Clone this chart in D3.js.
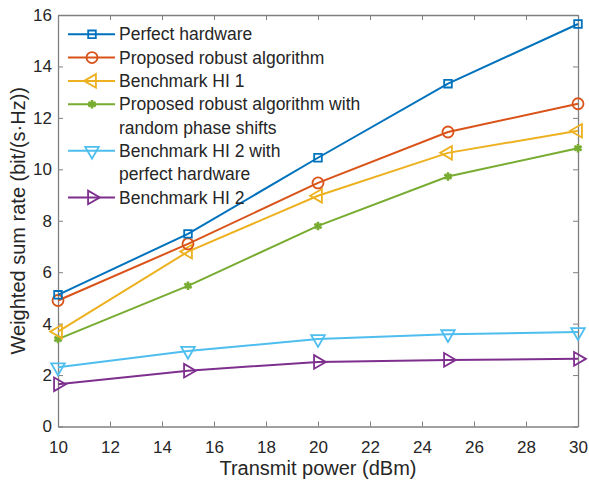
<!DOCTYPE html>
<html>
<head>
<meta charset="utf-8">
<script src="https://cdn.jsdelivr.net/npm/d3@7"></script>
<style>
  body { margin: 0; background: #fff; }
  text { font-family: "Liberation Sans", Arial, sans-serif; fill: #262626; }
</style>
</head>
<body>
<svg id="chart"></svg>
<script>
var power = [10, 15, 20, 25, 30];
var xTicks = [10, 12, 14, 16, 18, 20, 22, 24, 26, 28, 30];
var yTicks = [0, 2, 4, 6, 8, 10, 12, 14, 16];

var perfectHw = [5.12, 7.49, 10.45, 13.33, 15.65];
var robust = [4.9, 7.1, 9.47, 11.45, 12.55];
var hi1 = [3.69, 6.8, 8.97, 10.64, 11.5];
var robustRandom = [3.4, 5.47, 7.8, 9.72, 10.82];
var hi2Perfect = [2.3, 2.94, 3.4, 3.59, 3.67];
var hi2 = [1.64, 2.17, 2.51, 2.59, 2.63];

var seriesNames = [
    ["Perfect hardware"],
    ["Proposed robust algorithm"],
    ["Benchmark HI 1"],
    ["Proposed robust algorithm with", "random phase shifts"],
    ["Benchmark HI 2 with", "perfect hardware"],
    ["Benchmark HI 2"]
];

var series = [
    { name: seriesNames[0], values: perfectHw, color: "#0072BD", marker: "square" },
    { name: seriesNames[1], values: robust, color: "#D95319", marker: "circle" },
    { name: seriesNames[2], values: hi1, color: "#EDB120", marker: "left" },
    { name: seriesNames[3], values: robustRandom, color: "#77AC30", marker: "star" },
    { name: seriesNames[4], values: hi2Perfect, color: "#4DBEEE", marker: "down" },
    { name: seriesNames[5], values: hi2, color: "#7E2F8E", marker: "right" }
];

var margin = { top: 15, right: 11, bottom: 53.5, left: 58 },
    width = 589 - margin.left - margin.right,
    height = 480 - margin.top - margin.bottom;

var svg = d3.select("#chart")
    .attr("width", 589)
    .attr("height", 480);

var chart = svg.append("g")
    .attr("transform", "translate(" + margin.left + "," + margin.top + ")");

var x = d3.scaleLinear().domain([10, 30]).range([0, width]);
var y = d3.scaleLinear().domain([0, 16]).range([height, 0]);

// axes, MATLAB style: ticks inside, box on
var axisColor = "#808080";
function styleAxis(g) {
    g.select(".domain").attr("stroke", axisColor).attr("stroke-width", 1.3);
    g.selectAll(".tick line").attr("stroke", axisColor).attr("stroke-width", 1);
    g.selectAll(".tick text").style("font-size", "17px").attr("fill", "#262626");
}

chart.append("g")
    .attr("transform", "translate(0," + height + ")")
    .call(d3.axisBottom(x).tickValues(xTicks).tickSizeInner(-5).tickSizeOuter(0).tickPadding(14))
    .call(styleAxis);

chart.append("g")
    .call(d3.axisLeft(y).tickValues(yTicks).tickSizeInner(-5).tickSizeOuter(0).tickPadding(6))
    .call(styleAxis);

chart.append("g")
    .call(d3.axisTop(x).tickValues(xTicks).tickSizeInner(-5).tickSizeOuter(0).tickFormat(""))
    .call(styleAxis);

chart.append("g")
    .attr("transform", "translate(" + width + ",0)")
    .call(d3.axisRight(y).tickValues(yTicks).tickSizeInner(-5).tickSizeOuter(0).tickFormat(""))
    .call(styleAxis);

// axis titles
svg.append("text")
    .attr("x", margin.left + width / 2)
    .attr("y", 475)
    .attr("text-anchor", "middle")
    .style("font-size", "20px")
    .text("Transmit power (dBm)");

svg.append("text")
    .attr("transform", "translate(25," + (margin.top + height / 2) + ") rotate(-90)")
    .attr("text-anchor", "middle")
    .style("font-size", "20px")
    .text("Weighted sum rate (bit/(s\u00B7Hz))");

function drawMarker(g, type, color) {
    var path;
    if (type === "square") {
        path = d3.symbol().type(d3.symbolSquare).size(58)();
    } else if (type === "circle") {
        path = d3.symbol().type(d3.symbolCircle).size(95)();
    } else if (type === "star") {
        path = d3.symbol().type(d3.symbolAsterisk).size(50)();
    } else {
        path = d3.symbol().type(d3.symbolTriangle).size(80)();
    }
    var rot = { left: -90, down: 180, right: 90 }[type] || 0;
    g.append("path")
        .attr("d", path)
        .attr("transform", "rotate(" + rot + ")")
        .attr("fill", "none")
        .attr("stroke", color)
        .attr("stroke-width", type === "star" ? 2.6 : 1.8);
}

var line = d3.line()
    .x(function(d, i) { return x(power[i]); })
    .y(function(d) { return y(d); });

// draw bottom series first so the top ones sit above
series.slice().reverse().forEach(function(s) {
    chart.append("path")
        .datum(s.values)
        .attr("d", line)
        .attr("fill", "none")
        .attr("stroke", s.color)
        .attr("stroke-width", 2);

    s.values.forEach(function(v, i) {
        var g = chart.append("g")
            .attr("transform", "translate(" + x(power[i]) + "," + y(v) + ")");
        drawMarker(g, s.marker, s.color);
    });
});

// legend
var legend = chart.append("g");
var rowY = 19.3;
series.forEach(function(s) {
    var g = legend.append("g").attr("transform", "translate(0," + rowY + ")");
    g.append("line")
        .attr("x1", 10).attr("x2", 57)
        .attr("stroke", s.color).attr("stroke-width", 2);
    var m = g.append("g").attr("transform", "translate(34,0)");
    drawMarker(m, s.marker, s.color);
    s.name.forEach(function(t, k) {
        g.append("text")
            .attr("x", 61)
            .attr("y", k * 23.3)
            .attr("dy", "0.35em")
            .style("font-size", "17.5px")
            .text(t);
    });
    rowY += 23.3 * s.name.length;
});
</script>
</body>
</html>
